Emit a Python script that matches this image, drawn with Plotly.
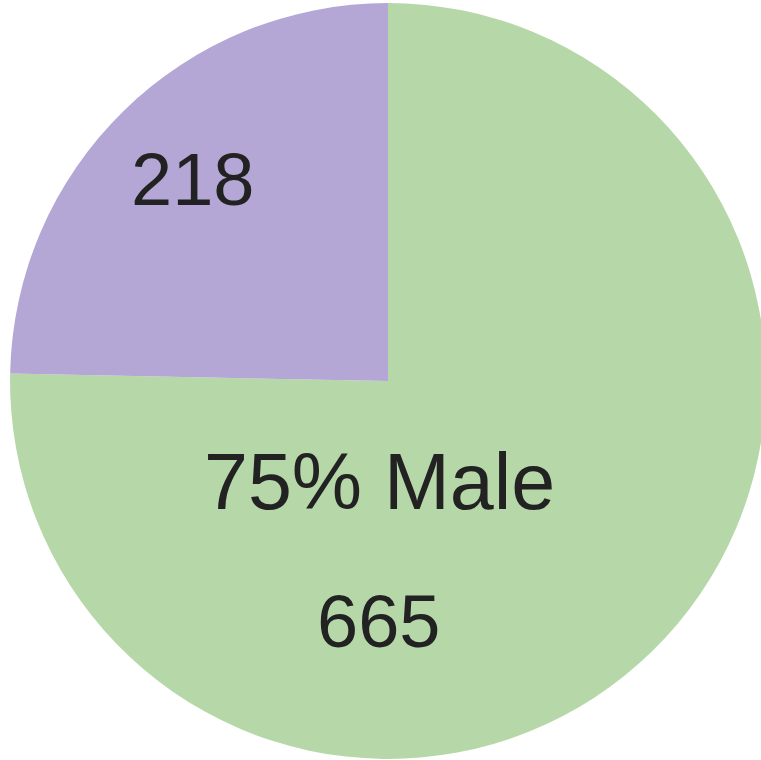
import plotly.graph_objects as go

labels = ["Male", "Female"]
values = [665, 218]
colors = ["#b6d7a8", "#b4a7d6"]

W, H = 776, 762
total = sum(values)
pct_male = round(values[0] / total * 100)

fig = go.Figure(go.Pie(
    labels=labels,
    values=values,
    sort=False,
    direction="clockwise",
    rotation=0,
    marker=dict(colors=colors, line=dict(width=0)),
    textinfo="none",
    hoverinfo="skip",
    showlegend=False,
    domain=dict(x=[0, 1], y=[0.004, 0.996]),
))

def px(x, y):
    return x / W, 1 - y / H

ann = [
    (f"{values[1]}", 192, 179, 74),
    (f"{pct_male}% Male", 379, 481, 79),
    (f"{values[0]}", 378, 621, 74),
]
for text, x, y, size in ann:
    ax, ay = px(x, y)
    fig.add_annotation(text=text, x=ax, y=ay, xref="paper", yref="paper",
                       showarrow=False, xanchor="center", yanchor="middle",
                       font=dict(family="Liberation Sans, Arial", size=size, color="#222222"))

fig.update_layout(
    width=W, height=H,
    margin=dict(l=0, r=0, t=0, b=0),
    paper_bgcolor="white",
    plot_bgcolor="white",
)

fig.write_html("out.html", config={"displayModeBar": False},
               post_script="document.body.style.margin='0';document.body.style.overflow='hidden';document.documentElement.style.overflow='hidden';")
